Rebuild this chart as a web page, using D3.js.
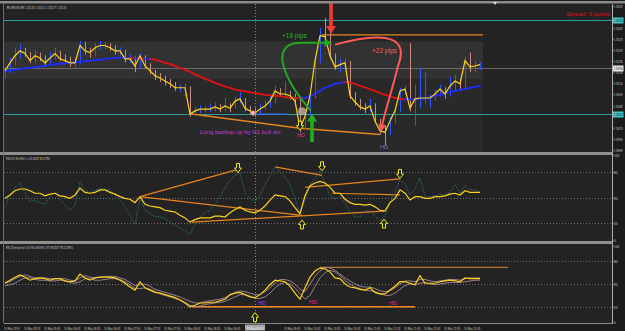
<!DOCTYPE html>
<html>
<head>
<meta charset="utf-8">
<script src="https://cdn.jsdelivr.net/npm/d3@7"></script>
<style>
  html, body { margin: 0; padding: 0; background: #1c1c1c; }
  svg { display: block; }
</style>
</head>
<body>
<div id="chart"></div>
<script>
//Bar data, GBPUSD M5 (open of a bar = close of the previous one)
var firstOpen = 1.30135;
var closes = [
  1.30143,1.30161,1.30177,1.30188,1.30182,1.30166,1.30177,1.30172,1.30161,1.30172,
  1.30182,1.30170,1.30166,1.30161,1.30161,1.30200,1.30188,1.30184,1.30195,1.30200,
  1.30200,1.30195,1.30188,1.30188,1.30170,1.30170,1.30154,1.30177,1.30154,1.30143,
  1.30132,1.30127,1.30120,1.30114,1.30105,1.30105,1.30105,1.30046,1.30053,1.30057,
  1.30057,1.30057,1.30062,1.30057,1.30064,1.30059,1.30075,1.30080,1.30059,1.30053,
  1.30048,1.30057,1.30064,1.30075,1.30098,1.30091,1.30091,1.30087,1.30075,1.30014,
  1.30041,1.30087,1.30166,1.30222,1.30220,1.30177,1.30152,1.30157,1.30161,1.30087,
  1.30073,1.30062,1.30057,1.30064,1.30030,1.30008,1.30005,1.30030,1.30053,1.30098,
  1.30102,1.30059,1.30080,1.30082,1.30082,1.30082,1.30091,1.30102,1.30091,1.30109,
  1.30120,1.30114,1.30166,1.30152,1.30154,1.30157];
var highs = [
  1.30150,1.30172,1.30195,1.30204,1.30195,1.30185,1.30190,1.30184,1.30178,1.30186,
  1.30195,1.30188,1.30180,1.30175,1.30172,1.30210,1.30208,1.30195,1.30205,1.30210,
  1.30208,1.30205,1.30200,1.30196,1.30190,1.30180,1.30175,1.30184,1.30178,1.30160,
  1.30145,1.30138,1.30132,1.30125,1.30118,1.30112,1.30115,1.30108,1.30062,1.30066,
  1.30064,1.30068,1.30072,1.30068,1.30082,1.30070,1.30085,1.30095,1.30082,1.30064,
  1.30060,1.30070,1.30078,1.30090,1.30110,1.30104,1.30120,1.30098,1.30092,1.30080,
  1.30052,1.30092,1.30172,1.30240,1.30262,1.30230,1.30182,1.30170,1.30170,1.30165,
  1.30095,1.30080,1.30070,1.30080,1.30070,1.30035,1.30020,1.30040,1.30060,1.30105,
  1.30110,1.30205,1.30112,1.30150,1.30140,1.30090,1.30100,1.30112,1.30106,1.30130,
  1.30135,1.30125,1.30175,1.30184,1.30165,1.30162];
var lows = [
  1.30125,1.30138,1.30155,1.30170,1.30175,1.30160,1.30160,1.30165,1.30155,1.30158,
  1.30168,1.30165,1.30158,1.30152,1.30150,1.30158,1.30180,1.30172,1.30175,1.30190,
  1.30192,1.30188,1.30180,1.30178,1.30162,1.30160,1.30140,1.30150,1.30148,1.30135,
  1.30122,1.30118,1.30110,1.30105,1.30098,1.30095,1.30085,1.30040,1.30042,1.30048,
  1.30050,1.30050,1.30052,1.30050,1.30052,1.30050,1.30058,1.30070,1.30052,1.30045,
  1.30040,1.30045,1.30055,1.30060,1.30070,1.30085,1.30082,1.30078,1.30068,1.30005,
  1.30010,1.30035,1.30080,1.30160,1.30200,1.30170,1.30145,1.30140,1.30150,1.30080,
  1.30065,1.30055,1.30048,1.30050,1.30025,1.30000,1.29975,1.29998,1.30025,1.30050,
  1.30090,1.30052,1.30020,1.30060,1.30070,1.30060,1.30075,1.30085,1.30080,1.30085,
  1.30098,1.30102,1.30105,1.30140,1.30140,1.30145];
//Moving average (blue while rising, red while falling)
var maValues = [
  1.30143,1.30144,1.30145,1.30147,1.30149,1.30150,1.30151,1.30153,1.30154,1.30156,
  1.30158,1.30159,1.30160,1.30161,1.30162,1.30163,1.30165,1.30166,1.30167,1.30168,
  1.30170,1.30171,1.30172,1.30172,1.30172,1.30172,1.30171,1.30171,1.30170,1.30170,
  1.30168,1.30165,1.30161,1.30158,1.30154,1.30150,1.30145,1.30141,1.30135,1.30130,
  1.30125,1.30121,1.30116,1.30112,1.30108,1.30105,1.30101,1.30099,1.30097,1.30095,
  1.30093,1.30091,1.30089,1.30088,1.30087,1.30086,1.30084,1.30083,1.30082,1.30081,
  1.30082,1.30086,1.30091,1.30098,1.30105,1.30109,1.30114,1.30116,1.30118,1.30117,
  1.30114,1.30109,1.30106,1.30102,1.30098,1.30093,1.30089,1.30086,1.30082,1.30080,
  1.30079,1.30079,1.30079,1.30080,1.30081,1.30083,1.30087,1.30089,1.30092,1.30096,
  1.30098,1.30100,1.30102,1.30105,1.30107,1.30109];

//RSI(14) and the fast dotted RSI
var rsiMain = [
  49,53,58,60,60,58,55,55,52,54, 55,52,51,49,53,61,56,55,56,59,
  59,56,54,51,49,48,44,51,42,40, 39,38,35,34,33,29,26,21,24,26,
  26,26,28,28,27,32,36,39,35,33, 32,35,40,47,53,52,51,46,38,31,
  52,64,67,69,67,62,55,55,48,44, 42,42,41,42,39,35,34,44,49,59,
  55,47,51,51,49,49,51,51,52,54, 55,53,58,56,56,56];
var rsiFast = [
  39,53,62,67,55,45,47,44,42,51, 56,47,41,35,41,68,59,55,59,60,
  60,59,53,47,39,29,18,49,35,31, 28,27,25,21,18,14,11,7,18,27,
  32,35,41,51,61,71,76,79,55,49, 45,53,65,76,86,80,74,65,49,32,
  47,64,73,81,68,52,48,51,44,33, 27,27,34,35,28,22,29,44,56,71,
  65,53,61,73,51,51,52,54,53,56, 65,55,64,59,59,56];

//RSI_Divergence panel
var divMain = [
  51,55,59,62,59,55,57,58,57,55, 57,57,54,53,54,63,58,55,58,59,
  59,59,58,55,51,46,42,53,45,42, 39,38,36,34,32,29,25,20,22,25,
  25,26,26,28,30,36,38,39,36,33, 32,36,42,49,55,54,53,47,38,30,
  45,59,67,71,70,66,58,57,50,46, 45,43,42,45,39,37,37,42,47,53,
  53,51,49,61,51,51,51,53,54,55, 54,53,58,57,57,57];
var divUpper = [
  52,53,57,60,62,60,58,58,58,57, 57,57,57,55,54,58,61,59,58,59,
  60,60,60,58,56,52,48,49,50,47, 43,41,39,37,35,33,30,27,25,25,
  27,28,29,30,32,35,39,41,40,38, 36,36,40,45,51,56,56,54,50,43,
  40,50,60,67,72,71,68,63,58,54, 50,47,46,46,44,41,40,41,45,50,
  54,54,53,56,56,54,53,54,55,56, 56,55,57,58,58,58];
var divLower = [
  48,49,51,55,58,58,56,55,55,54, 54,55,54,52,51,53,57,57,55,55,
  56,57,57,56,53,49,44,44,45,43, 40,37,35,33,31,29,26,22,20,21,
  23,24,25,26,27,30,33,36,36,34, 31,31,33,38,45,50,52,50,45,37,
  30,35,47,58,65,68,66,61,55,50, 46,44,42,41,40,37,35,35,38,43,
  48,50,49,51,52,50,49,50,51,52, 52,52,53,54,55,55];

//Axis labels
var priceTicks = [1.30290,1.30240,1.30215,1.30190,1.30165,1.30140,1.30115,1.30090,1.30065,1.30015,1.29990,1.29965];
var priceLevels = [1.30258, 1.30045];
var lastPrice = 1.30150;
var oscTicks = [100, 80, 50, 20, 0];
var oscLevels = [80, 50, 20];
var timeLabels = ["10 May 2019","10 May 05:20","10 May 05:40","10 May 06:00","10 May 06:20","10 May 06:40",
  "10 May 07:00","10 May 07:20","10 May 07:40","10 May 08:00","10 May 08:20","10 May 08:40",
  "10 May 09:00","10 May 09:20","10 May 09:40","10 May 10:00","10 May 10:20","10 May 10:40",
  "10 May 11:00","10 May 11:20","10 May 11:40","10 May 12:00","10 May 12:20","10 May 12:40"];
var crossBar = 50, crossLabel = "10 May 09:10";

//Trend lines drawn on the chart [bar, value, bar, value]
var priceTrend = [[37.4,1.30046,59,1.30014],[59,1.30014,75,1.30000]];
var priceTop = [63.4,1.30224,95.6,1.30224];
var priceBlue = [49.6,1.30046,56.4,1.30046];
var rsiTrend = [[27,51,46.6,83],[27,51,59.4,29],[37.4,21,75.8,34],[54,86,63.4,76],[60,62,79,72],[65.4,55,79,53]];
var divTrend = [[37.4,20,82,20]];
var divTop = [63,72,100.6,72];

var W = 625, H = 331;
var plotL = 4, plotR = 612;
var p1 = {top: 4, bottom: 152}, p2 = {top: 155, bottom: 241}, p3 = {top: 244, bottom: 323};

//Scales
var x = d3.scaleLinear().domain([0, 95]).range([5, 480]);
var y = d3.scaleLinear().domain([1.29965, 1.30290]).range([150, 5.5]);
var yRsi = d3.scaleLinear().domain([0, 100]).range([240, 155]);
var yDiv = d3.scaleLinear().domain([0, 100]).range([322, 246]);

var fontSmall = "'DejaVu Sans', sans-serif";

var svg = d3.select("#chart").append("svg").attr("width", W).attr("height", H);
svg.append("rect").attr("width", W).attr("height", H).attr("fill", "#1c1c1c");

//Panel backgrounds
[p1, p2, p3].forEach(function(p) {
  svg.append("rect").attr("x", plotL).attr("y", p.top).attr("width", plotR - plotL).attr("height", p.bottom - p.top).attr("fill", "#232323");
});
//lighter zones of the price panel
svg.append("rect").attr("x", plotL).attr("y", y(1.30125)).attr("width", x(95.6) - plotL)
  .attr("height", p1.bottom - y(1.30125)).attr("fill", "#292929");
svg.append("rect").attr("x", plotL).attr("y", y(1.30209)).attr("width", x(95.6) - plotL)
  .attr("height", y(1.30125) - y(1.30209)).attr("fill", "#323232");

//Horizontal levels in price panel
priceLevels.forEach(function(v) {
  svg.append("line").attr("x1", plotL).attr("x2", plotR).attr("y1", Math.round(y(v)) + 0.5).attr("y2", Math.round(y(v)) + 0.5)
    .attr("stroke", "#2f9c9c").attr("stroke-width", 1);
});
svg.append("line").attr("x1", plotL).attr("x2", plotR).attr("y1", Math.round(y(lastPrice)) + 0.5).attr("y2", Math.round(y(lastPrice)) + 0.5)
  .attr("stroke", "#6a6a6a").attr("stroke-width", 1);

//Oscillator levels
oscLevels.forEach(function(v) {
  svg.append("line").attr("x1", plotL).attr("x2", plotR).attr("y1", Math.round(yRsi(v)) + 0.5).attr("y2", Math.round(yRsi(v)) + 0.5)
    .attr("stroke", "#707070").attr("stroke-dasharray", "1,2");
  svg.append("line").attr("x1", plotL).attr("x2", plotR).attr("y1", Math.round(yDiv(v)) + 0.5).attr("y2", Math.round(yDiv(v)) + 0.5)
    .attr("stroke", "#707070").attr("stroke-dasharray", "1,2");
});

//Crosshair
svg.append("line").attr("x1", Math.round(x(crossBar)) + 0.5).attr("x2", Math.round(x(crossBar)) + 0.5)
  .attr("y1", p1.top).attr("y2", p3.bottom).attr("stroke", "#8a8a8a").attr("stroke-dasharray", "1,2");

//Trend lines in the price panel
function seg(g, d, sx, sy, color, w) {
  g.append("line").attr("x1", sx(d[0])).attr("y1", sy(d[1])).attr("x2", sx(d[2])).attr("y2", sy(d[3]))
    .attr("stroke", color).attr("stroke-width", w);
}
var gp = svg.append("g");
priceTrend.forEach(function(d) { seg(gp, d, x, y, "#e8841c", 1.5); });
seg(gp, priceTop, x, y, "#e8841c", 1.3);
seg(gp, priceBlue, x, y, "#3a5cff", 1);

//Bars
var bars = d3.range(closes.length).map(function(i) {
  return {i: i, o: i === 0 ? firstOpen : closes[i - 1], c: closes[i], h: highs[i], l: lows[i]};
});
gp.selectAll(".bar").data(bars).enter().append("line")
  .attr("class", "bar")
  .attr("x1", function(d) { return Math.round(x(d.i)) + 0.5; })
  .attr("x2", function(d) { return Math.round(x(d.i)) + 0.5; })
  .attr("y1", function(d) { return y(d.h); })
  .attr("y2", function(d) { return y(d.l); })
  .attr("stroke", function(d) { return d.c >= d.o ? "#2e55ff" : "#c98c7c"; })
  .attr("stroke-width", 1);

//Moving average, coloured by slope
var maSegs = d3.range(maValues.length - 1).map(function(i) { return {i: i, a: maValues[i], b: maValues[i + 1]}; });
gp.selectAll(".ma").data(maSegs).enter().append("line")
  .attr("class", "ma")
  .attr("x1", function(d) { return x(d.i); })
  .attr("x2", function(d) { return x(d.i + 1); })
  .attr("y1", function(d) { return y(d.a); })
  .attr("y2", function(d) { return y(d.b); })
  .attr("stroke", function(d) { return d.b >= d.a ? "#1f2cff" : "#e01212"; })
  .attr("stroke-width", 1.8).attr("stroke-linecap", "round");

//Close line
gp.append("path").datum(closes)
  .attr("d", d3.line().x(function(d, i) { return x(i); }).y(function(d) { return y(d); }))
  .attr("fill", "none").attr("stroke", "#ffd21a").attr("stroke-width", 1.2);

//Markers on the price panel
gp.append("circle").attr("cx", x(49.6)).attr("cy", y(1.30048)).attr("r", 2.3).attr("fill", "#e9c9c9").attr("stroke", "#d05a5a").attr("stroke-width", 0.8);
gp.append("circle").attr("cx", x(59.4)).attr("cy", y(1.30052)).attr("r", 4).attr("fill", "#bba99f").attr("opacity", 0.85);

//Arrows
function bigArrow(g, cx, yTail, yTip, color) {
  var dir = yTip < yTail ? -1 : 1, hw = 1.8, hh = 5, hl = 8;
  var yb = yTip - dir * hl;
  var pts = [[cx - hw, yTail], [cx - hw, yb], [cx - hh, yb], [cx, yTip], [cx + hh, yb], [cx + hw, yb], [cx + hw, yTail]];
  g.append("path").attr("d", "M" + pts.join("L") + "Z").attr("fill", color);
}
bigArrow(gp, x(61.4), y(1.29983), y(1.30047), "#1eae1e");
bigArrow(gp, x(65.2), y(1.30298), y(1.30226), "#f03a3a");

function hollowArrow(g, cx, yA, dir) {
  //dir 1 = pointing down, -1 = pointing up; yA = tail end
  var hw = 1.5, hh = 3.5, len = 9, hl = 4.5;
  var tip = yA + dir * len, yb = tip - dir * hl;
  var pts = [[cx - hw, yA], [cx - hw, yb], [cx - hh, yb], [cx, tip], [cx + hh, yb], [cx + hw, yb], [cx + hw, yA]];
  g.append("path").attr("d", "M" + pts.join("L") + "Z").attr("fill", "#232323").attr("stroke", "#e8e81a").attr("stroke-width", 1);
}

//Curved arrows
var defs = svg.append("defs");
[["headG", "#23a823"], ["headR", "#ff5a5a"]].forEach(function(m) {
  defs.append("marker").attr("id", m[0]).attr("viewBox", "0 0 10 10").attr("refX", 7).attr("refY", 5)
    .attr("markerWidth", 4).attr("markerHeight", 4).attr("orient", "auto")
    .append("path").attr("d", "M0,0L10,5L0,10Z").attr("fill", m[1]);
});
gp.append("path")
  .attr("d", "M" + x(61.2) + "," + y(1.30053) + " C" + x(56) + "," + y(1.30120) + " " + x(52.5) + "," + y(1.30204) + " " + x(59) + "," + y(1.30206) + " L" + x(65) + "," + y(1.30206))
  .attr("fill", "none").attr("stroke", "#23a823").attr("stroke-width", 2).attr("marker-end", "url(#headG)");
gp.append("path")
  .attr("d", "M" + x(66) + "," + y(1.30202) + " C" + x(73) + "," + y(1.30224) + " " + x(81.5) + "," + y(1.30236) + " " + x(78.6) + "," + y(1.30154) + " C" + x(77.4) + "," + y(1.30098) + " " + x(76) + "," + y(1.30053) + " " + x(75.2) + "," + y(1.30010))
  .attr("fill", "none").attr("stroke", "#ff5a5a").attr("stroke-width", 2).attr("marker-end", "url(#headR)");

hollowArrow(gp, x(59), y(1.30030), 1);

//Annotations
function label(g, tx, ty, txt, color, size) {
  return g.append("text").attr("x", tx).attr("y", ty).text(txt).attr("fill", color)
    .attr("font-family", "'Liberation Sans', Arial, sans-serif").attr("font-size", size);
}
label(gp, x(55.4), y(1.30218), "+18 pips", "#2ab02a", 6.5);
label(gp, x(73.4), y(1.30184), "+22 pips", "#ff5a5a", 6.5);
label(gp, x(39), y(1.30001), "Long backup up by H1 bull div", "#c43ad0", 6);
label(gp, x(58.4), y(1.29994), "HD", "#c43ad0", 5.5);
label(gp, x(75), y(1.29968), "HD", "#a06aa8", 5.5);
label(svg, 566, 16, "Spread: 3 points", "#e01010", 6);

//RSI panel
var g2 = svg.append("g");
rsiTrend.forEach(function(d) { seg(g2, d, x, yRsi, "#e8841c", 1.2); });
g2.append("path").datum(rsiFast)
  .attr("d", d3.line().x(function(d, i) { return x(i); }).y(function(d) { return yRsi(d); }))
  .attr("fill", "none").attr("stroke", "#2f7676").attr("stroke-width", 1).attr("stroke-dasharray", "1,1");
g2.append("path").datum(rsiMain)
  .attr("d", d3.line().x(function(d, i) { return x(i); }).y(function(d) { return yRsi(d); }))
  .attr("fill", "none").attr("stroke", "#ffd21a").attr("stroke-width", 1.2);
hollowArrow(g2, x(46.6), yRsi(90), 1);
hollowArrow(g2, x(63.4), yRsi(92), 1);
hollowArrow(g2, x(79), yRsi(83), 1);
hollowArrow(g2, x(59.4), yRsi(13), -1);
hollowArrow(g2, x(75.8), yRsi(14), -1);

//Divergence panel
var g3 = svg.append("g");
divTrend.forEach(function(d) { seg(g3, d, x, yDiv, "#f08a1c", 1.5); });
seg(g3, divTop, x, yDiv, "#d88a3a", 1);
[divUpper, divLower].forEach(function(arr) {
  g3.append("path").datum(arr)
    .attr("d", d3.line().x(function(d, i) { return x(i); }).y(function(d) { return yDiv(d); }))
    .attr("fill", "none").attr("stroke", "#a88a94").attr("stroke-width", 0.9);
});
g3.append("path").datum(divMain)
  .attr("d", d3.line().x(function(d, i) { return x(i); }).y(function(d) { return yDiv(d); }))
  .attr("fill", "none").attr("stroke", "#ffd21a").attr("stroke-width", 1.2);
label(g3, x(50.6), yDiv(22), "HD", "#d02ad0", 5.5);
label(g3, x(60.8), yDiv(24), "HD", "#d02ad0", 5.5);
label(g3, x(76.8), yDiv(22), "HD", "#d02ad0", 5.5);
hollowArrow(g3, x(crossBar), yDiv(0.5), -1);

//Frames and separators
svg.append("rect").attr("x", 0).attr("y", 1).attr("width", W).attr("height", 2.5).attr("fill", "#8c8c8c");
[[152, 155], [241, 244]].forEach(function(s) {
  svg.append("rect").attr("x", 0).attr("y", s[0]).attr("width", plotR).attr("height", s[1] - s[0]).attr("fill", "#8f8f8f");
});
svg.append("line").attr("x1", plotL - 0.5).attr("x2", plotL - 0.5).attr("y1", p1.top).attr("y2", p3.bottom).attr("stroke", "#6d6d6d");
svg.append("line").attr("x1", plotL).attr("x2", plotR).attr("y1", p3.bottom + 0.5).attr("y2", p3.bottom + 0.5).attr("stroke", "#8a8a8a");
svg.append("line").attr("x1", plotR + 0.5).attr("x2", plotR + 0.5).attr("y1", p1.top).attr("y2", p3.bottom + 1).attr("stroke", "#b0b0b0");

//Small texts, squeezed horizontally like the screenshot
function tiny(g, tx, ty, txt, color, sx, anchor) {
  return g.append("text").attr("transform", "translate(" + tx + "," + ty + ") scale(" + sx + ",1)")
    .text(txt).attr("fill", color || "#c8c8c8")
    .attr("font-family", fontSmall).attr("font-size", 4).attr("text-anchor", anchor || "start");
}
tiny(svg, 7, 8.5, "\u25BC GBPUSD,M5  1.30133 1.30141 1.30127 1.30131", null, 0.6);
tiny(svg, 6, 159.5, "RSI(14) 56.4901  \u2248 43.0202 54.4756", null, 0.6);
tiny(svg, 6, 248.5, "RSI_Divergence (14) 56.490094 | 57.962307 55.212951", null, 0.6);

//Price axis
var axisG = svg.append("g");
priceTicks.forEach(function(v) {
  var yy = Math.round(y(v)) + 0.5;
  axisG.append("line").attr("x1", plotR).attr("x2", plotR + 1.5).attr("y1", yy).attr("y2", yy).attr("stroke", "#b0b0b0");
  tiny(axisG, plotR + 2, yy + 1.5, d3.format(".5f")(v), "#c8c8c8", 0.52);
});
function flag(v, bg, fg) {
  var yy = Math.round(y(v)) + 0.5;
  axisG.append("rect").attr("x", plotR + 1).attr("y", yy - 3).attr("width", 10.5).attr("height", 6).attr("fill", bg);
  tiny(axisG, plotR + 2, yy + 1.6, d3.format(".5f")(v), fg, 0.52);
}
priceLevels.forEach(function(v) { flag(v, "#3fc6c6", "#0d2a2a"); });
flag(lastPrice, "#e6e6e6", "#111");

//Oscillator axes
[yRsi, yDiv].forEach(function(sc) {
  oscTicks.forEach(function(v) {
    var yy = Math.round(sc(v)) + 0.5;
    axisG.append("line").attr("x1", plotR).attr("x2", plotR + 1.5).attr("y1", yy).attr("y2", yy).attr("stroke", "#b0b0b0");
    tiny(axisG, plotR + 2, yy + 1.5, String(v), "#c8c8c8", 0.7);
  });
});

//Time axis
timeLabels.forEach(function(t, k) {
  if (Math.abs(x(k * 4) - x(crossBar)) < 14) return;
  tiny(svg, x(k * 4) - 1, 329.5, t, null, 0.6);
});
var cx0 = x(crossBar);
svg.append("rect").attr("x", cx0 - 10).attr("y", 324.5).attr("width", 20).attr("height", 6).attr("fill", "#a8a8a8");
tiny(svg, cx0, 329.5, crossLabel, "#f4f4f4", 0.6, "middle");

//small marker at the top
svg.append("path").attr("d", "M" + (x(98) - 2) + ",2L" + (x(98) + 2) + ",2L" + x(98) + ",5Z").attr("fill", "#dcdcdc");
</script>
</body>
</html>
